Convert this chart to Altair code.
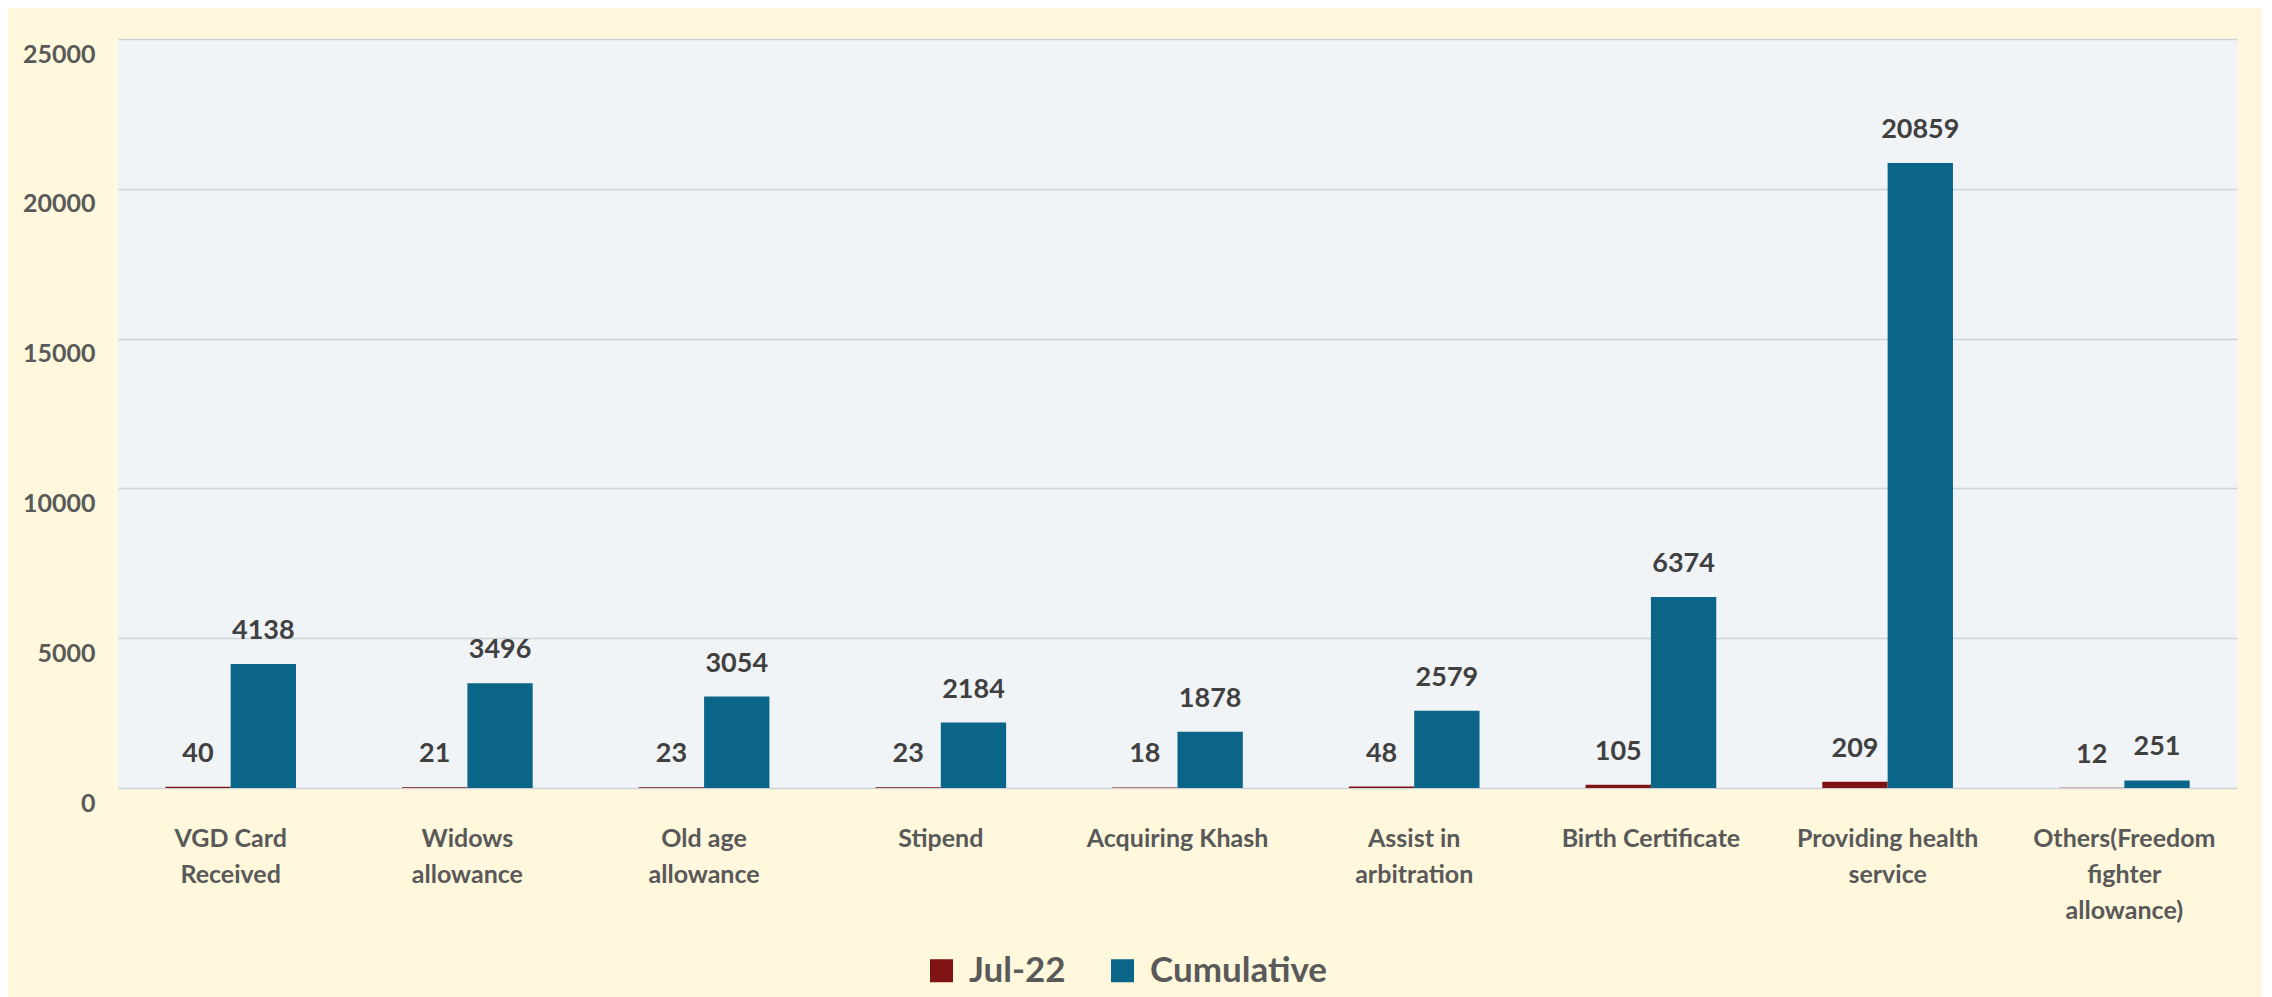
import altair as alt
import pandas as pd

categories = ["VGD Card\nReceived", "Widows\nallowance", "Old age\nallowance", "Stipend",
              "Acquiring Khash", "Assist in\narbitration", "Birth Certificate",
              "Providing health\nservice", "Others(Freedom\nfighter\nallowance)"]
series_names = ["Jul-22", "Cumulative"]
jul22 = [40, 21, 23, 23, 18, 48, 105, 209, 12]
cumulative = [4138, 3496, 3054, 2184, 1878, 2579, 6374, 20859, 251]
colors = ["#7F1212", "#0B6589"]

rows = []
for i, c in enumerate(categories):
    rows.append({"cat": c, "series": series_names[0], "value": jul22[i]})
    rows.append({"cat": c, "series": series_names[1], "value": cumulative[i]})
df = pd.DataFrame(rows)

FONT = "Lato"

x = alt.X("cat:N", sort=categories, title=None,
          scale=alt.Scale(paddingInner=0.448),
          axis=alt.Axis(labelExpr="split(datum.label, '\\n')", labelAngle=0,
                        labelFontSize=25, labelFontWeight="bold", labelColor="#595959",
                        labelFont=FONT, labelLineHeight=36, labelBaseline="top",
                        labelLimit=0, labelPadding=38, domain=False, ticks=False, grid=False))
y = alt.Y("value:Q", title=None,
          scale=alt.Scale(domain=[0, 25000], nice=False),
          axis=alt.Axis(values=[0, 5000, 10000, 15000, 20000, 25000], format="d",
                        labelFontSize=25, labelFontWeight="bold", labelColor="#595959",
                        labelFont=FONT, labelPadding=23, labelOffset=15, domain=False,
                        ticks=False, grid=True, gridColor="#CDD3D8", gridWidth=1.5))
color = alt.Color("series:N", sort=series_names,
                  scale=alt.Scale(domain=series_names, range=colors),
                  legend=alt.Legend(title=None, orient="none", direction="horizontal",
                                    legendX=806, legendY=914, symbolType="square",
                                    symbolSize=530, symbolStrokeWidth=0,
                                    labelFontSize=35, labelFontWeight="bold",
                                    labelColor="#595959", labelFont=FONT, labelLimit=0,
                                    labelOffset=10, columnPadding=39))

base = alt.Chart(df).encode(x=x, xOffset=alt.XOffset("series:N", sort=series_names), y=y)

bars = base.mark_bar().encode(color=color)
labels = base.mark_text(baseline="bottom", dy=-19, fontSize=27, fontWeight="bold",
                        font=FONT, color="#404040").encode(text="value:Q")

chart = (bars + labels).properties(
    width=2119, height=749,
    background="#FFF8DC",
    padding={"left": 110, "top": 31, "right": 25, "bottom": 209},
    autosize=alt.AutoSizeParams(type="none"),
).configure_view(stroke=None, fill="#F1F4F6")

chart.save("out.html", embed_options={"renderer": "svg", "actions": False})
